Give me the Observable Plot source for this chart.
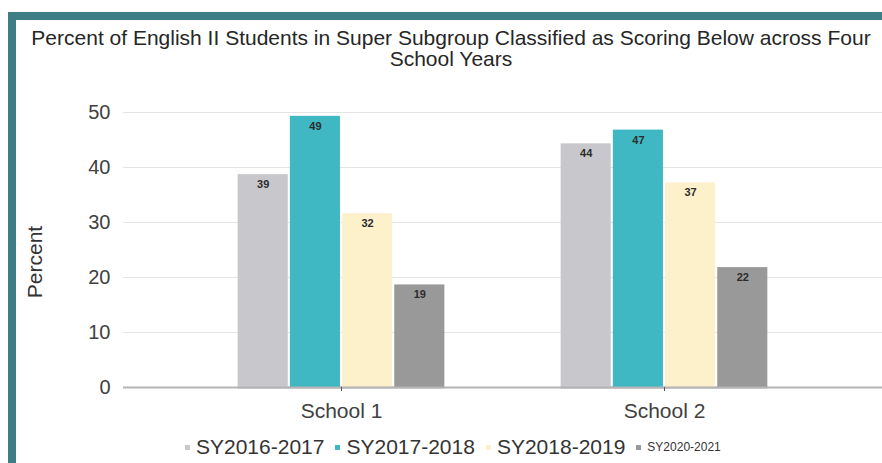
<!DOCTYPE html>
<html>
<head>
<meta charset="utf-8">
<script src="https://cdn.jsdelivr.net/npm/d3@7"></script>
<script src="https://cdn.jsdelivr.net/npm/@observablehq/plot@0.6"></script>
<style>
  html, body { margin: 0; padding: 0; background: #fff; }
  #wrap { position: relative; width: 882px; height: 463px; overflow: hidden; background: #fff;
    font-family: "Liberation Sans", Arial, Helvetica, sans-serif; color: #2b2b2b; }
  .bt { position: absolute; left: 8px; top: 12px; right: 0; height: 8px; background: #3d7d84; }
  .bl { position: absolute; left: 8px; top: 12px; width: 8px; bottom: 0; background: #3d7d84; }
  #title { position: absolute; top: 27px; left: 20px; right: 0; text-align: center;
    font-size: 21px; line-height: 21px; color: #262626; }
  #grid, #chart { position: absolute; top: 90px; left: 0; }
  #legend { position: absolute; top: 435px; left: 185px; height: 24px; display: flex; align-items: center;
    color: #333; white-space: nowrap; }
  .item { display: flex; align-items: center; margin-right: 11px; }
  .sw { width: 5px; height: 5px; margin-right: 6px; }
</style>
</head>
<body>
<div id="wrap">
  <div class="bt"></div>
  <div class="bl"></div>
  <div id="title">Percent of English II Students in Super Subgroup Classified as Scoring Below across Four<br>School Years</div>
  <div id="grid"></div>
  <div id="chart"></div>
  <div id="legend"></div>
</div>
<script>
const schools = ["School 1", "School 2"];
const years = ["SY2016-2017", "SY2017-2018", "SY2018-2019", "SY2020-2021"];
const sy2016_2017 = [38.7, 44.3];
const sy2017_2018 = [49.3, 46.8];
const sy2018_2019 = [31.6, 37.2];
const sy2020_2021 = [18.65, 21.8];
const yTicks = [0, 10, 20, 30, 40, 50];
const colors = ["#c8c8cc", "#3fb8c4", "#fdf1cc", "#999999"];
const legendSizes = [21, 21, 21, 12];

const series = [sy2016_2017, sy2017_2018, sy2018_2019, sy2020_2021];
const data = [];
schools.forEach((s, i) => years.forEach((y, j) => data.push({school: s, year: y, value: series[j][i]})));

const font = "'Liberation Sans', Arial, Helvetica, sans-serif";
const frame = {width: 882, height: 330, marginTop: 22, marginBottom: 33, marginLeft: 123, marginRight: 0};

// Background layer: full-width gridlines, baseline, y axis and its label
const gridPlot = Plot.plot({
  ...frame,
  style: {fontFamily: font, color: "#404040", background: "transparent", overflow: "visible"},
  x: {axis: null},
  y: {domain: [0, 50], axis: null},
  marks: [
    Plot.ruleY(yTicks.filter(d => d > 0), {stroke: "#e4e4e4", strokeWidth: 1}),
    Plot.ruleY([0], {stroke: "#b4b4b4", strokeWidth: 2}),
    Plot.axisY({ticks: yTicks, tickSize: 0, tickPadding: 13, fontSize: 20, label: null, color: "#404040"}),
    Plot.text(["Percent"], {frameAnchor: "left", textAnchor: "middle", dx: -88, dy: 12, rotate: -90, fontSize: 21, fill: "#333"})
  ]
});
document.getElementById("grid").appendChild(gridPlot);

// Foreground layer: grouped bars, value labels, school axis
const plot = Plot.plot({
  ...frame,
  style: {fontFamily: font, color: "#404040", background: "transparent", overflow: "visible"},
  fx: {domain: schools, paddingInner: 0.36, paddingOuter: 0.355, round: false, label: null},
  x: {domain: years, paddingInner: 0.04, paddingOuter: 0, round: false, axis: null},
  y: {domain: [0, 50], axis: null},
  color: {domain: years, range: colors},
  marks: [
    Plot.barY(data, {fx: "school", x: "year", y: "value", fill: "year"}),
    Plot.ruleY([0], {stroke: "#b4b4b4", strokeWidth: 2}),
    Plot.text(data, {fx: "school", x: "year", y: "value", text: d => Math.round(d.value),
      dy: 10, fontWeight: "bold", fontSize: 11, fill: "#2b2b2b"}),
    Plot.axisFx({anchor: "bottom", tickSize: 4, tickPadding: 12, fontSize: 21, label: null, color: "#404040", stroke: "#555"})
  ]
});
document.getElementById("chart").appendChild(plot);

const legend = document.getElementById("legend");
years.forEach((y, i) => {
  const it = document.createElement("div");
  it.className = "item";
  const sw = document.createElement("span");
  sw.className = "sw";
  sw.style.background = colors[i];
  const t = document.createElement("span");
  t.textContent = y;
  t.style.fontSize = legendSizes[i] + "px";
  it.appendChild(sw);
  it.appendChild(t);
  legend.appendChild(it);
});
</script>
</body>
</html>
